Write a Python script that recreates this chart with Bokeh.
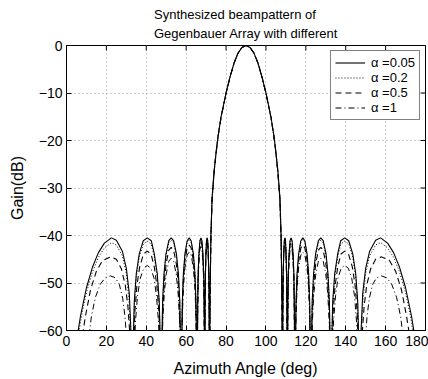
from bokeh.plotting import figure
from bokeh.models import Range1d, Title, FixedTicker, Legend, LegendItem
from bokeh.embed import file_html
from bokeh.resources import INLINE

# ---- data (left half, 0..90 deg; pattern is symmetric about 90 deg) ----
a005_ang = [5.5, 7, 10, 13, 16, 19, 22.5, 25, 28, 30, 31.5, 32.5,
            33, 34, 35, 36.5, 38.5, 40.5, 42.5, 44, 45.5, 46.5,
            47.5, 48.2, 48.9, 49.9, 51.3, 52.5, 53.7, 55.1, 56.1, 56.8,
            57.5, 58.1, 58.6, 59.4, 60.5, 61.5, 62.5, 63.6, 64.4, 64.9,
            65.5, 65.8, 66.0, 66.4, 66.9, 67.4, 67.9, 68.4, 68.8, 69.0,
            69.3, 69.5, 69.65, 69.9, 70.2, 70.5, 70.8, 71.1, 71.35, 71.5,
            71.7, 72.0, 72.4, 73, 74, 75, 76, 77.5, 80, 82, 84, 86, 88, 90]
a005_gain = [-61, -57, -51, -46.7, -43.6, -41.6, -40.5, -41, -43.3, -46.9, -52.3, -62,
             -70, -53.8, -48, -43.8, -41.1, -40.5, -41.1, -43.8, -48, -53.8,
             -70, -53.8, -48, -43.8, -41.1, -40.5, -41.1, -43.8, -48, -53.8,
             -70, -53.8, -48, -43.8, -41.1, -40.5, -41.1, -43.8, -48, -53.8,
             -70, -53.8, -48, -43.8, -41.1, -40.5, -41.1, -43.8, -48, -53.8,
             -70, -53.8, -48, -43.8, -41.1, -40.5, -41.1, -43.8, -48, -53.8,
             -70, -52, -40, -32, -26.5, -22.5, -19, -15, -10, -6.6, -3.7, -1.6, -0.4, 0]

a02_ang = [6, 7.5, 10, 13, 16, 19, 22.5, 25, 28, 30, 31.3, 32.3,
           33, 34, 35, 36.5, 38.5, 40.5, 42.5, 44, 45.5, 46.5,
           47.5, 48.2, 48.9, 49.9, 51.3, 52.5, 53.7, 55.1, 56.1, 56.8,
           57.5, 58.1, 58.6, 59.4, 60.5, 61.5, 62.5, 63.6, 64.4, 64.9,
           65.5, 65.8, 66.0, 66.4, 66.9, 67.4, 67.9, 68.4, 68.8, 69.0,
           69.3, 69.5, 69.65, 69.9, 70.2, 70.5, 70.8, 71.1, 71.35, 71.5,
           71.7, 72.0, 72.4, 73, 74, 75, 76, 77.5, 80, 82, 84, 86, 88, 90]
a02_gain = [-61, -57, -52, -47.7, -44.6, -42.6, -41.5, -42, -44.3, -48, -53.5, -62,
            -70, -54.5, -48.7, -44.5, -41.8, -41.2, -41.8, -44.5, -48.7, -54.5,
            -70, -54.3, -48.5, -44.3, -41.6, -41, -41.6, -44.3, -48.5, -54.3,
            -70, -54.1, -48.3, -44.1, -41.4, -40.8, -41.4, -44.1, -48.3, -54.1,
            -70, -53.9, -48.1, -43.9, -41.2, -40.6, -41.2, -43.9, -48.1, -53.9,
            -70, -53.8, -48, -43.8, -41.1, -40.5, -41.1, -43.8, -48, -53.8,
            -70, -52, -40, -32, -26.5, -22.5, -19, -15, -10, -6.6, -3.7, -1.6, -0.4, 0]

a05_ang = [8, 9.5, 12, 15, 18, 22, 25, 27.5, 29.5, 30.8, 31.8,
           33.2, 34.3, 35.3, 36.7, 38.6, 40.5, 42.4, 44, 45.3, 46.3,
           47.5, 48.3, 49, 50, 51.3, 52.5, 53.7, 55, 56, 56.7,
           57.5, 58.1, 58.6, 59.4, 60.5, 61.5, 62.5, 63.6, 64.4, 64.9,
           65.5, 65.8, 66.0, 66.4, 66.9, 67.4, 67.9, 68.4, 68.8, 69.0,
           69.3, 69.5, 69.65, 69.9, 70.2, 70.5, 70.8, 71.1, 71.35, 71.5,
           71.7, 72.0, 72.4, 73, 74, 75, 76, 77.5, 80, 82, 84, 86, 88, 90]
a05_gain = [-61, -57, -51.5, -47.5, -45.3, -44.5, -45, -47, -50.5, -55, -61,
            -70, -56, -50.5, -46.6, -43.9, -43.3, -43.9, -46.6, -50.5, -56,
            -70, -55.8, -50, -45.8, -43.1, -42.5, -43.1, -45.8, -50, -55.8,
            -70, -55.3, -49.5, -45.3, -42.6, -42, -42.6, -45.3, -49.5, -55.3,
            -70, -54.6, -48.8, -44.6, -41.9, -41.3, -41.9, -44.6, -48.8, -54.6,
            -70, -54.1, -48.3, -44.1, -41.4, -40.8, -41.4, -44.1, -48.3, -54.1,
            -70, -52.5, -40.5, -32.3, -26.7, -22.6, -19.1, -15.1, -10, -6.6, -3.7, -1.6, -0.4, 0]

a1_ang = [11.3, 12.5, 14.5, 17, 19.5, 22, 24.5, 26.5, 28.2, 29.3, 30.2,
          33.4, 34.6, 35.6, 37, 38.7, 40.5, 42.3, 43.9, 45.1, 46.1,
          47.4, 48.3, 49, 50, 51.3, 52.5, 53.7, 55, 56, 56.7,
          57.5, 58.1, 58.6, 59.4, 60.5, 61.5, 62.5, 63.6, 64.4, 64.9,
          65.5, 65.8, 66.0, 66.4, 66.9, 67.4, 67.9, 68.4, 68.8, 69.0,
          69.3, 69.5, 69.65, 69.9, 70.2, 70.5, 70.8, 71.1, 71.35, 71.5,
          71.7, 72.0, 72.4, 73, 74, 75, 76, 77.5, 80, 82, 84, 86, 88, 90]
a1_gain = [-61, -57, -53, -50.2, -48.9, -48.5, -48.9, -50.3, -53.3, -57, -62,
           -70, -58, -52.7, -49, -46.9, -46.3, -46.9, -49, -52.7, -58,
           -70, -58, -52.3, -48.1, -45.4, -44.8, -45.4, -48.1, -52.3, -58,
           -70, -56.8, -51, -46.8, -44.1, -43.5, -44.1, -46.8, -51, -56.8,
           -70, -55.6, -49.8, -45.6, -42.9, -42.3, -42.9, -45.6, -49.8, -55.6,
           -70, -54.6, -48.8, -44.6, -41.9, -41.3, -41.9, -44.6, -48.8, -54.6,
           -70, -53, -41, -32.6, -26.9, -22.7, -19.2, -15.2, -10.1, -6.7, -3.7, -1.6, -0.4, 0]

title_text = "Synthesized beampattern of\nGegenbauer Array with different"
series_labels = ["\u03b1 =0.05", "\u03b1 =0.2", "\u03b1 =0.5", "\u03b1 =1"]
x_ticks = [0, 20, 40, 60, 80, 100, 120, 140, 160, 180]
y_ticks = [-60, -50, -40, -30, -20, -10, 0]
y_tick_labels = ["\u221260", "\u221250", "\u221240", "\u221230", "\u221220", "\u221210", "0"]
X_MIN, X_MAX, Y_MIN, Y_MAX = 0, 180, -60, 0


def full(ang, gain):
    # the beampattern is symmetric about 90 deg: reflect the read left half
    xs = list(ang) + [180 - a for a in reversed(ang[:-1])]
    ys = list(gain) + list(reversed(gain[:-1]))
    return xs, ys


FONT = "Liberation Sans"

p = figure(width=428, height=379, output_backend="svg", toolbar_location=None,
           x_range=Range1d(X_MIN, X_MAX), y_range=Range1d(Y_MIN, Y_MAX),
           min_border_left=66, min_border_right=3, min_border_top=0, min_border_bottom=4,
           background_fill_color="white", border_fill_color="white")
p.outline_line_color = "black"
p.outline_line_width = 1

p.title = Title(text=title_text, align="center", text_font=FONT, text_font_size="13px",
                text_font_style="normal", text_color="black", text_line_height=1.25,
                standoff=9)

xa = p.xaxis[0]
ya = p.yaxis[0]
for ax in (xa, ya):
    ax.major_tick_in = 5
    ax.major_tick_out = 0
    ax.minor_tick_in = 0
    ax.minor_tick_out = 0
    ax.axis_line_color = "black"
    ax.major_tick_line_color = "black"
    ax.major_label_text_font = FONT
    ax.major_label_text_font_size = "14px"
    ax.major_label_text_color = "black"
    ax.axis_label_text_font = FONT
    ax.axis_label_text_font_size = "16px"
    ax.axis_label_text_font_style = "normal"
    ax.axis_label_text_color = "black"
xa.ticker = FixedTicker(ticks=x_ticks)
ya.ticker = FixedTicker(ticks=y_ticks)
ya.major_label_overrides = {t: l for t, l in zip(y_ticks, y_tick_labels)}
xa.axis_label = "Azimuth Angle (deg)"
ya.axis_label = "Gain(dB)"
xa.major_label_standoff = 5
ya.major_label_standoff = 4
xa.axis_label_standoff = 11
ya.axis_label_standoff = 10

for g in (p.xgrid[0], p.ygrid[0]):
    g.grid_line_color = "#9a9a9a"
    g.grid_line_dash = "1 3"
    g.grid_line_width = 1
p.xgrid[0].ticker = FixedTicker(ticks=x_ticks)
p.ygrid[0].ticker = FixedTicker(ticks=y_ticks)

# inward tick marks on the top and right frame edges (MATLAB box style)
p.segment(x0=x_ticks, y0=[Y_MAX] * len(x_ticks), x1=x_ticks, y1=[Y_MAX - 1.05] * len(x_ticks),
          line_color="black", line_width=1)
p.segment(x0=[X_MAX] * len(y_ticks), y0=y_ticks, x1=[X_MAX - 2.5] * len(y_ticks), y1=y_ticks,
          line_color="black", line_width=1)

styles = [("solid", 1.1), ("1 2", 1.0), ("6 4", 1.1), ("6 3 1 3", 1.0)]
data = [(a005_ang, a005_gain), (a02_ang, a02_gain), (a05_ang, a05_gain), (a1_ang, a1_gain)]
items = []
for (ang, gain), (dash, w), lab in zip(data, styles, series_labels):
    xs, ys = full(ang, gain)
    r = p.line(xs, ys, line_color="black", line_dash=dash, line_width=w)
    items.append(LegendItem(label=lab, renderers=[r]))

leg = Legend(items=items, location="top_right", margin=5, padding=4, spacing=0,
             label_text_font=FONT, label_text_font_size="13px", label_text_color="black",
             glyph_width=30, glyph_height=13, label_height=13, label_standoff=6,
             border_line_color="black", border_line_width=1,
             background_fill_color="white", background_fill_alpha=1.0)
p.add_layout(leg, "center")

open("out.html", "w").write(file_html(p, INLINE))
